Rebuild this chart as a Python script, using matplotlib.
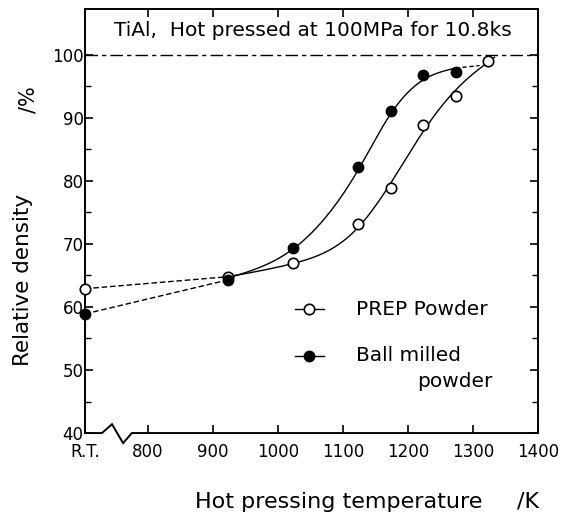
import matplotlib
matplotlib.use('Agg')
import matplotlib.pyplot as plt
import numpy as np

plt.rcParams['font.family'] = ['DejaVu Sans']

# 温度 (K)  R.T. は左端 703 に置く
rt_pos = 703
temps = [923, 1023, 1123, 1173, 1223, 1273, 1323]

# PREP powder (白丸)
prep_rt = 62.9
prep = [64.8, 66.9, 73.1, 78.8, 88.9, 93.5, 99.0]

# Ball milled powder (黒丸)
ball_rt = 58.9
ball = [64.3, 69.4, 82.2, 91.1, 96.8, 97.3]
ball_temps = temps[:6]

# 手書きの曲線
prep_curve_x = [923, 1023, 1123, 1173, 1223, 1273, 1333]
prep_curve_y = [64.8, 66.9, 72.6, 79.6, 87.8, 94.4, 99.6]
ball_curve_x = [923, 1023, 1123, 1173, 1223, 1273]
ball_curve_y = [64.6, 69.2, 81.7, 90.6, 96.0, 97.9]
ball_ext_x = [1273, 1310]
ball_ext_y = [97.9, 98.3]

xtick_pos = [rt_pos, 800, 900, 1000, 1100, 1200, 1300, 1400]
xtick_lab = ['R.T.', '800', '900', '1000', '1100', '1200', '1300', '1400']
yticks = [40, 50, 60, 70, 80, 90, 100]


def spline(x, y, n=200):
    # 自然3次スプライン (曲線描画用)
    x = np.asarray(x, float)
    y = np.asarray(y, float)
    k = len(x)
    h = np.diff(x)
    A = np.zeros((k, k))
    b = np.zeros(k)
    A[0, 0] = A[-1, -1] = 1
    for i in range(1, k - 1):
        A[i, i - 1] = h[i - 1]
        A[i, i] = 2 * (h[i - 1] + h[i])
        A[i, i + 1] = h[i]
        b[i] = 6 * ((y[i + 1] - y[i]) / h[i] - (y[i] - y[i - 1]) / h[i - 1])
    M = np.linalg.solve(A, b)
    xs = np.linspace(x[0], x[-1], n)
    j = np.clip(np.searchsorted(x, xs) - 1, 0, k - 2)
    t1 = x[j + 1] - xs
    t0 = xs - x[j]
    ys = (M[j] * t1**3 + M[j + 1] * t0**3) / (6 * h[j]) \
        + (y[j] / h[j] - M[j] * h[j] / 6) * t1 \
        + (y[j + 1] / h[j] - M[j + 1] * h[j] / 6) * t0
    return xs, ys


fig = plt.figure(figsize=(5.67, 5.18), dpi=100)
ax = fig.add_axes([0.150, 0.164, 0.799, 0.819])
ax.set_xlim(rt_pos, 1400)
ax.set_ylim(40, 107.3)

lw = 1.0
# 100% の線
ax.axhline(100, color='black', lw=1.0, ls=(0, (9, 3, 3, 3)))

# 破線 (R.T. -> 923K)
ax.plot([rt_pos, temps[0]], [prep_rt, prep[0]], color='black', lw=lw, ls=(0, (4, 2)))
ax.plot([rt_pos, ball_temps[0]], [ball_rt, ball[0]], color='black', lw=lw, ls=(0, (4, 2)))

# 実線
cx, cy = spline(prep_curve_x, prep_curve_y)
ax.plot(cx, cy, color='black', lw=lw)
cx, cy = spline(ball_curve_x, ball_curve_y)
ax.plot(cx, cy, color='black', lw=lw)
ax.plot(ball_ext_x, ball_ext_y, color='black', lw=lw, ls=(0, (3, 2)))

# 点
ax.plot([rt_pos] + temps, [prep_rt] + prep, 'o', ms=7.5, mfc='white', mec='black',
        mew=1.2, ls='none', clip_on=False, zorder=5)
ax.plot([rt_pos] + ball_temps, [ball_rt] + ball, 'o', ms=7.5, mfc='black', mec='black',
        ls='none', clip_on=False, zorder=5)

# 凡例
ax.plot([1026, 1071], [59.6, 59.6], color='black', lw=lw)
ax.plot([1048], [59.6], 'o', ms=7.5, mfc='white', mec='black', mew=1.2)
ax.text(1120, 59.6, 'PREP Powder', fontsize=14.5, va='center', ha='left')
ax.plot([1026, 1071], [52.3, 52.3], color='black', lw=lw)
ax.plot([1048], [52.3], 'o', ms=7.5, mfc='black', mec='black')
ax.text(1120, 52.3, 'Ball milled', fontsize=14.5, va='center', ha='left')
ax.text(1330, 48.1, 'powder', fontsize=14.5, va='center', ha='right')

# タイトル
ax.text(1054, 103.8, 'TiAl,  Hot pressed at 100MPa for 10.8ks', fontsize=14.5,
        ha='center', va='center')

# 軸
ax.set_xticks(xtick_pos)
ax.set_xticklabels(xtick_lab)
ax.set_yticks(yticks)
ax.set_yticks(np.arange(45, 100, 10), minor=True)
ax.tick_params(axis='both', which='both', direction='in', labelsize=12)
ax.tick_params(axis='x', which='major', top=True, length=6, width=1.2, pad=7)
ax.tick_params(axis='y', which='major', right=True, length=6, width=1.2, pad=1)
ax.tick_params(axis='y', which='minor', right=True, length=4, width=1.0)
for s in ['left', 'right', 'top']:
    ax.spines[s].set_linewidth(1.4)
ax.spines['bottom'].set_visible(False)

# 下の軸 (R.T. の後で波線)
ax.plot([rt_pos, 729, 744.5, 761.5, 775, 1400], [40, 40, 41.4, 38.4, 40, 40],
        color='black', lw=1.4, clip_on=False, solid_joinstyle='miter')

fig.text(0.050, 0.807, '/%', fontsize=15, rotation=90, ha='center', va='center')
fig.text(0.040, 0.459, 'Relative density', fontsize=15.5, rotation=90, ha='center', va='center')
fig.text(0.597, 0.031, 'Hot pressing temperature', fontsize=16, ha='center', va='center')
fig.text(0.931, 0.031, '/K', fontsize=16, ha='center', va='center')

plt.savefig('out.png')
plt.close()
